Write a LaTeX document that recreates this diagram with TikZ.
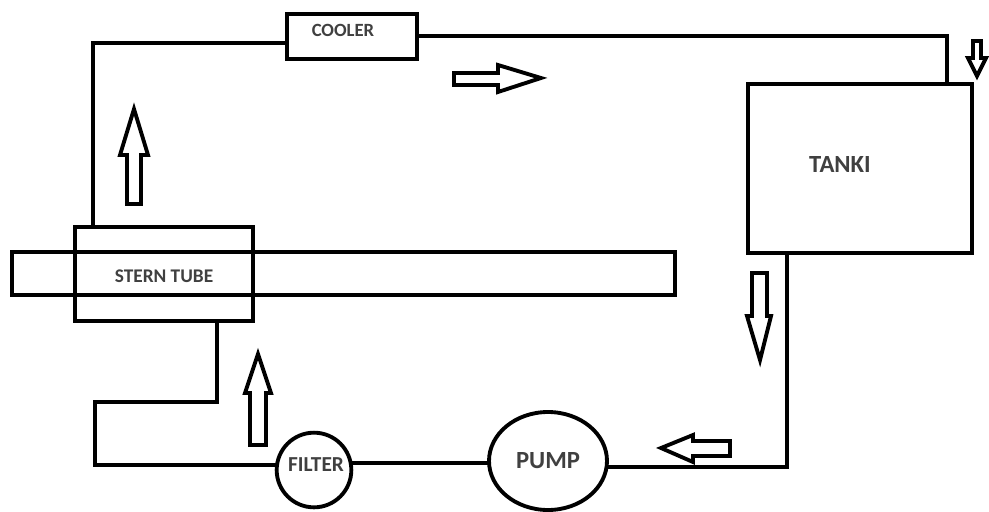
\documentclass[tikz,border=0pt]{standalone}
\usepackage{fontspec}
\setmainfont{Carlito}
\usetikzlibrary{shapes.geometric}
\tikzset{
 lw/.style={line width=2.9pt,black,line join=miter},
 boxn/.style={draw,line width=2.9pt,fill=none,inner sep=0pt,outer sep=0pt},
 blockarrow/.style={draw=black,line width=2.9pt,fill=white,line join=miter},
 lab/.style={text=black!75,inner sep=0pt}
}
\begin{document}
\begin{tikzpicture}[x=0.75pt,y=-0.75pt]
\useasboundingbox (0,0) rectangle (989,511);
% shaft and stern tube
\node[boxn,minimum width=497.25pt,minimum height=32.25pt] (shaft) at (343.5,273.5) {};
\node[boxn,minimum width=133.5pt,minimum height=70.5pt] (stern) at (164,274) {};
\node[lab,font=\bfseries\fontsize{14.5}{16}\selectfont] (sternl) at (164,276) {STERN TUBE};
% tank
\node[boxn,minimum width=168pt,minimum height=126.75pt] (tank) at (860,168.5) {};
\node[lab,font=\bfseries\fontsize{18.5}{20}\selectfont] (tankl) at (840,164) {TANKI};
% cooler
\node[boxn,minimum width=97.5pt,minimum height=33.5pt] (cooler) at (352,36.5) {};
\node[lab,font=\bfseries\fontsize{14}{16}\selectfont] (coolerl) at (343,30) {COOLER};
% pump, filter
\node[boxn,ellipse,minimum width=88.5pt,minimum height=73.5pt] (pump) at (548,461) {};
\node[lab,font=\bfseries\fontsize{18.5}{20}\selectfont] at (548,461) {PUMP};
\node[boxn,circle,minimum width=56pt] (filter) at (314,470) {};
\node[lab,font=\bfseries\fontsize{16}{18}\selectfont] at (316,465) {FILTER};
% pipes
\coordinate (a) at (93,226); \coordinate (b) at (93,43); \coordinate (c) at (cooler.west |- b);
\draw[lw] (a)--(b)--(c);
\coordinate (d) at (cooler.east |- 0,36); \coordinate (e) at (947,36); \coordinate (f) at (947,84);
\draw[lw] (d)--(e)--(f);
\coordinate (g) at (787,253); \coordinate (h) at (787,467); \coordinate (i) at (pump.east |- h);
\draw[lw] (g)--(h)--(i);
\draw[lw] (pump.west |- 0,463)--(352,463);
\coordinate (j) at (276,465); \coordinate (k) at (95,465); \coordinate (l) at (95,402); \coordinate (m) at (217,402); \coordinate (n) at (217,321);
\draw[lw] (j)--(k)--(l)--(m)--(n);
% block arrows
\draw[blockarrow] (454,73)--(498,73)--(498,65)--(541,78)--(498,92)--(498,85)--(454,85)--cycle;
\draw[blockarrow] (127,204)--(127,155)--(120,155)--(134,109)--(148,155)--(141,155)--(141,204)--cycle;
\draw[blockarrow] (250,445)--(250,393)--(245,393)--(258,354)--(271,393)--(266,393)--(266,445)--cycle;
\draw[blockarrow] (752,273)--(752,316)--(747,316)--(760,360)--(771,316)--(767,316)--(767,273)--cycle;
\draw[blockarrow] (730,441)--(693,441)--(693,435)--(661,448)--(693,462)--(693,456)--(730,456)--cycle;
\draw[blockarrow] (973,41)--(973,58)--(968,58)--(977,76)--(986,58)--(981,58)--(981,41)--cycle;
\end{tikzpicture}
\end{document}
